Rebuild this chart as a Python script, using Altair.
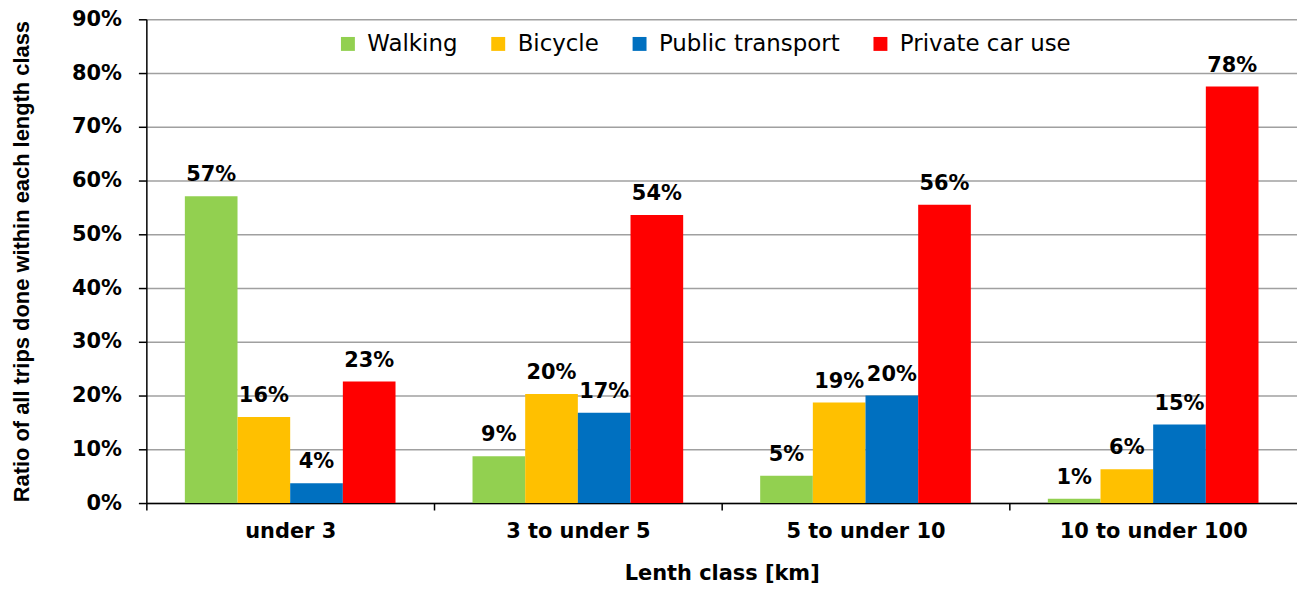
import altair as alt
import pandas as pd

categories = ["under 3", "3 to under 5", "5 to under 10", "10 to under 100"]
modes = ["Walking", "Bicycle", "Public transport", "Private car use"]
colors = ["#92D050", "#FFC000", "#0070C0", "#FF0000"]
walking = [57.1, 8.7, 5.1, 0.8]
bicycle = [16.0, 20.3, 18.7, 6.3]
public_transport = [3.7, 16.8, 20.0, 14.6]
private_car = [22.6, 53.6, 55.5, 77.5]
y_ticks = [0, 10, 20, 30, 40, 50, 60, 70, 80, 90]

rows = []
for mode, series in zip(modes, [walking, bicycle, public_transport, private_car]):
    for cat, v in zip(categories, series):
        rows.append({"cat": cat, "mode": mode, "value": v})
df = pd.DataFrame(rows)

FONT = "DejaVu Sans"

base = alt.Chart(df).encode(
    x=alt.X(
        "cat:N",
        sort=categories,
        scale=alt.Scale(paddingInner=0, paddingOuter=0),
        axis=alt.Axis(
            title="Lenth class [km]",
            labelAngle=0,
            labelFont=FONT,
            labelFontSize=21,
            labelFontWeight="bold",
            labelColor="black",
            labelPadding=11,
            labelLimit=400,
            tickSize=7,
            tickColor="black",
            tickWidth=1.5,
            tickOffset=-144.5,
            labelOffset=144.5,
            domainColor="black",
            domainWidth=1.5,
            grid=False,
            titleFont=FONT,
            titleFontSize=21,
            titleFontWeight="bold",
            titleColor="black",
            titleY=60,
            titleBaseline="top",
        ),
    ),
    xOffset=alt.XOffset(
        "mode:N", sort=modes, scale=alt.Scale(paddingInner=0, paddingOuter=0.731)
    ),
    y=alt.Y(
        "value:Q",
        scale=alt.Scale(domain=[0, 90], nice=False),
        axis=alt.Axis(
            values=y_ticks,
            labelExpr="datum.value + '%'",
            labelFont=FONT,
            labelFontSize=21,
            labelFontWeight="bold",
            labelColor="black",
            labelPadding=17,
            tickSize=8,
            tickColor="black",
            tickWidth=1.5,
            domainColor="black",
            domainWidth=1.5,
            grid=True,
            gridColor="#a0a0a0",
            gridWidth=1.5,
            title="Ratio of all trips done within each length class",
            titleFont="Liberation Sans",
            titleFontSize=22,
            titleFontWeight="bold",
            titleColor="black",
            titleX=-125,
            titleY=243,
            titleAngle=270,
            titleAlign="center",
            titleBaseline="middle",
        ),
    ),
)

bars = base.mark_bar().encode(
    color=alt.Color(
        "mode:N",
        sort=modes,
        scale=alt.Scale(domain=modes, range=colors),
        legend=alt.Legend(
            title=None,
            orient="none",
            direction="horizontal",
            legendX=191,
            legendY=13,
            symbolType="square",
            symbolSize=196,
            symbolStrokeWidth=0,
            symbolOpacity=1,
            labelFont=FONT,
            labelFontSize=23,
            labelColor="black",
            labelOffset=8,
            labelLimit=400,
            columnPadding=29,
            padding=0,
        ),
    )
)

labels = base.transform_calculate(
    label="round(datum.value) + '%'"
).mark_text(
    baseline="alphabetic",
    dy=-15,
    font=FONT,
    fontSize=21,
    fontWeight="bold",
    color="black",
).encode(text="label:N")

chart = (
    alt.layer(bars, labels)
    .properties(
        width=1156,
        height=486,
        autosize=alt.AutoSizeParams(type="none"),
        padding={"left": 139, "top": 10, "right": 0, "bottom": 83},
    )
    .configure_view(stroke="transparent")
)

chart.save("out.html", embed_options={"renderer": "svg", "actions": False})
